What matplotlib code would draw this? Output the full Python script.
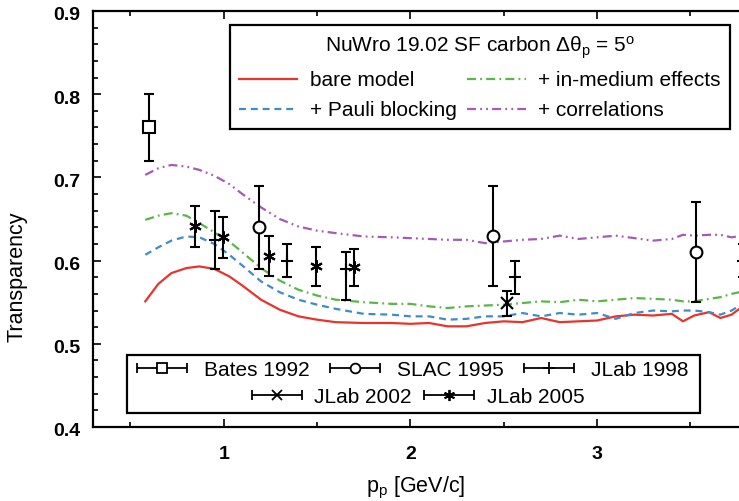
import matplotlib
matplotlib.use("Agg")
import matplotlib.pyplot as plt
import matplotlib.transforms as mtransforms
from matplotlib.lines import Line2D
from matplotlib.patches import Rectangle
from matplotlib.collections import LineCollection
from matplotlib.container import ErrorbarContainer
from matplotlib.legend_handler import HandlerErrorbar
from matplotlib.ticker import MultipleLocator

plt.rcParams['font.family'] = ['Liberation Sans', 'DejaVu Sans']
plt.rcParams['mathtext.fontset'] = 'custom'
plt.rcParams['mathtext.rm'] = 'Liberation Sans'
plt.rcParams['mathtext.it'] = 'Liberation Sans'
plt.rcParams['lines.scale_dashes'] = False

# NuWro curves
p_grid = [0.58, 0.65, 0.72, 0.80, 0.87, 0.95, 1.03, 1.10, 1.20, 1.30, 1.40, 1.50,
          1.60, 1.75, 1.90, 2.00, 2.10, 2.20, 2.30, 2.40, 2.50, 2.60, 2.70, 2.80,
          2.90, 3.00, 3.10, 3.20, 3.30, 3.40, 3.46, 3.52, 3.60, 3.66, 3.72, 3.78]
bare = [0.551, 0.572, 0.585, 0.591, 0.593, 0.590, 0.581, 0.570, 0.553, 0.541, 0.533, 0.529,
        0.526, 0.525, 0.525, 0.524, 0.525, 0.521, 0.521, 0.525, 0.527, 0.526, 0.531, 0.526,
        0.527, 0.528, 0.533, 0.535, 0.534, 0.536, 0.527, 0.534, 0.538, 0.531, 0.535, 0.545]
pauli = [0.607, 0.616, 0.624, 0.629, 0.628, 0.620, 0.607, 0.594, 0.575, 0.562, 0.553, 0.547,
         0.542, 0.536, 0.535, 0.533, 0.533, 0.529, 0.530, 0.533, 0.533, 0.537, 0.533, 0.537,
         0.535, 0.537, 0.530, 0.537, 0.540, 0.539, 0.540, 0.540, 0.538, 0.535, 0.540, 0.548]
medium = [0.649, 0.654, 0.657, 0.654, 0.645, 0.634, 0.623, 0.610, 0.591, 0.576, 0.565, 0.558,
          0.553, 0.550, 0.548, 0.548, 0.545, 0.543, 0.545, 0.546, 0.547, 0.549, 0.551, 0.550,
          0.553, 0.551, 0.553, 0.555, 0.554, 0.553, 0.551, 0.551, 0.554, 0.556, 0.560, 0.563]
corr = [0.703, 0.711, 0.715, 0.713, 0.709, 0.702, 0.692, 0.680, 0.664, 0.650, 0.641, 0.636,
        0.633, 0.629, 0.628, 0.627, 0.626, 0.625, 0.625, 0.621, 0.623, 0.625, 0.626, 0.630,
        0.626, 0.628, 0.630, 0.627, 0.624, 0.626, 0.631, 0.630, 0.631, 0.631, 0.628, 0.630]

# experimental data
bates_x = [0.60]
bates_y = [0.76]
bates_err = [0.04]

slac_x = [1.19, 2.44, 3.53]
slac_y = [0.64, 0.63, 0.61]
slac_err = [0.05, 0.06, 0.06]

jlab98_x = [0.955, 1.34, 1.655, 2.56, 3.78]
jlab98_y = [0.625, 0.600, 0.590, 0.580, 0.600]
jlab98_lo = [0.035, 0.020, 0.037, 0.020, 0.020]
jlab98_hi = [0.035, 0.020, 0.020, 0.020, 0.020]

jlab02_x = [2.52]
jlab02_y = [0.549]
jlab02_err = [0.015]

jlab05_x = [0.845, 0.997, 1.243, 1.497, 1.697]
jlab05_y = [0.641, 0.628, 0.605, 0.593, 0.592]
jlab05_err = [0.025, 0.025, 0.024, 0.023, 0.022]

fig = plt.figure(figsize=(7.39, 5.01), dpi=100)
ax = fig.add_axes([93 / 739, 74 / 501, 646 / 739, 416 / 501])

l1, = ax.plot(p_grid, bare, color='#e8342c', lw=1.6, ls='-', label='bare model')
l2, = ax.plot(p_grid, pauli, color='#3d8ccc', lw=1.6, ls=(0, (5, 3.5)), label='+ Pauli blocking')
l3, = ax.plot(p_grid, medium, color='#5cb548', lw=1.6, ls=(0, (6.5, 3, 1.3, 3)),
              label='+ in-medium effects')
l4, = ax.plot(p_grid, corr, color='#a35bb5', lw=1.6, ls=(0, (6.5, 3, 1.3, 3, 1.3, 3)),
              label='+ correlations')

ekw = dict(color='k', ecolor='k', elinewidth=1.5, capsize=3.3, capthick=1.5,
           ls='none', mew=1.5, zorder=5)
ax.errorbar(bates_x, bates_y, yerr=bates_err, marker='s', ms=9, mfc='white', **ekw)
ax.errorbar(slac_x, slac_y, yerr=slac_err, marker='o', ms=8.5, mfc='white', **ekw)
ax.errorbar(jlab98_x, jlab98_y, yerr=[jlab98_lo, jlab98_hi], marker='+', ms=9, **ekw)
ax.errorbar(jlab02_x, jlab02_y, yerr=jlab02_err, marker='x', ms=8.5, **ekw)
ax.errorbar(jlab05_x, jlab05_y, yerr=jlab05_err, marker=(6, 2, 0), ms=9, **ekw)

ax.set_xlim(0.3, 3.76)
ax.set_ylim(0.4, 0.9)
ax.xaxis.set_major_locator(MultipleLocator(1))
ax.xaxis.set_minor_locator(MultipleLocator(0.5))
ax.yaxis.set_major_locator(MultipleLocator(0.1))
ax.yaxis.set_minor_locator(MultipleLocator(0.02))
ax.tick_params(which='both', direction='in', top=True, right=False, width=1.2)
ax.tick_params(which='major', length=6)
ax.tick_params(which='minor', length=3.5)
ax.tick_params(axis='x', which='major', pad=14, labelsize=14)
ax.tick_params(axis='y', which='major', pad=9, labelsize=14)
shift = mtransforms.ScaledTranslation(0, -3 / 100, fig.dpi_scale_trans)
for lab in ax.get_xticklabels() + ax.get_yticklabels():
    lab.set_fontweight('bold')
for lab in ax.get_yticklabels():
    lab.set_transform(lab.get_transform() + shift)
for s in ['left', 'bottom', 'top']:
    ax.spines[s].set_linewidth(1.6)
ax.spines['right'].set_visible(False)

ax.set_xlabel(r'p$_\mathrm{p}$ [GeV/c]', fontsize=15.5, labelpad=8)
ax.set_ylabel('Transparency', fontsize=15.5)
ax.yaxis.set_label_coords(-0.101, 0.36)

leg1 = ax.legend(handles=[l1, l2, l3, l4], ncol=2, loc='upper right',
                 bbox_to_anchor=(0.986, 0.966), fontsize=15,
                 title=r'NuWro 19.02 SF carbon $\Delta\theta_\mathrm{p}$ = 5$^\mathrm{o}$',
                 title_fontsize=15, frameon=True, fancybox=False, framealpha=1,
                 edgecolor='k', handlelength=2.8, handletextpad=0.6, columnspacing=0.5,
                 borderpad=0.45, labelspacing=0.5, borderaxespad=0)
leg1.get_frame().set_linewidth(1.6)
ax.add_artist(leg1)


def proxy(marker, ms):
    line = Line2D([], [], color='k', marker=marker, markersize=ms, mfc='white',
                  ls='none', mew=1.3)
    cap = Line2D([], [], color='k', marker='|', markersize=7, mew=1.3, ls='none')
    bar = LineCollection([], colors='k', linewidths=1.3)
    return ErrorbarContainer((line, (cap, cap), (bar,)), has_xerr=True, has_yerr=False)


hmap = {ErrorbarContainer: HandlerErrorbar(xerr_size=1.2)}
row1 = [proxy('s', 7), proxy('o', 7), proxy('+', 8)]
row2 = [proxy('x', 7), proxy((6, 2, 0), 8)]
leg2 = ax.legend(row1, ['Bates 1992', 'SLAC 1995', 'JLab 1998'], ncol=3,
                 loc='center', bbox_to_anchor=(0.495, 0.137), fontsize=15,
                 frameon=False, handler_map=hmap, handlelength=2.4,
                 handletextpad=0.8, columnspacing=1.0, borderpad=0, borderaxespad=0)
ax.add_artist(leg2)
leg3 = ax.legend(row2, ['JLab 2002', 'JLab 2005'], ncol=2,
                 loc='center', bbox_to_anchor=(0.503, 0.072), fontsize=15,
                 frameon=False, handler_map=hmap, handlelength=2.4,
                 handletextpad=0.6, columnspacing=0.6, borderpad=0, borderaxespad=0)
ax.add_patch(Rectangle((0.053, 0.034), 0.887, 0.139, transform=ax.transAxes,
                       fill=True, fc='white', ec='k', lw=1.6, zorder=4))

fig.savefig('out.png', dpi=100)
